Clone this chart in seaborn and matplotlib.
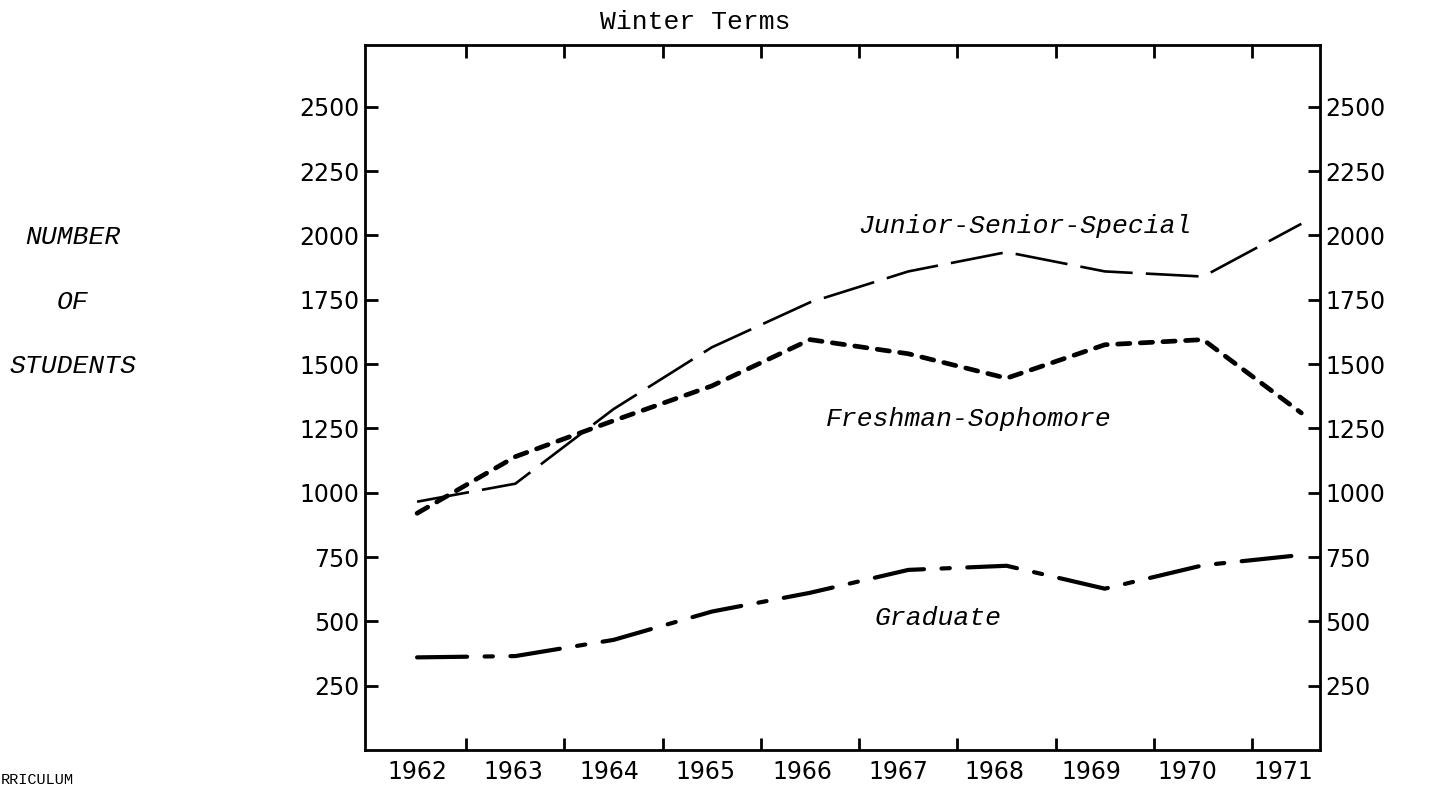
import numpy as np
import pandas as pd
import matplotlib
matplotlib.use("Agg")
import matplotlib.pyplot as plt
import seaborn as sns

# ---- data ----
years = ["1962", "1963", "1964", "1965", "1966", "1967", "1968", "1969", "1970", "1971"]
junior_senior_special = [965, 1035, 1325, 1565, 1740, 1860, 1935, 1860, 1840, 2045]
freshman_sophomore = [920, 1140, 1280, 1415, 1595, 1540, 1445, 1575, 1595, 1310]
graduate = [360, 365, 428, 538, 611, 700, 716, 627, 718, 758]
y_ticks = [250, 500, 750, 1000, 1250, 1500, 1750, 2000, 2250, 2500]

sns.set_theme(style="white")
plt.rcParams["font.family"] = ["DejaVu Sans"]

W, H = 1436, 788
fig = plt.figure(figsize=(W / 100, H / 100), dpi=100)
ax = fig.add_axes([365 / W, 38 / H, (1320 - 365) / W, (750 - 45) / H])

x = np.arange(len(years))

sns.lineplot(x=x, y=junior_senior_special, ax=ax, color="black", linewidth=1.9,
             linestyle=(0, (20, 5)), estimator=None)
sns.lineplot(x=x, y=freshman_sophomore, ax=ax, color="black", linewidth=3.4,
             linestyle=(0, (2.6, 2.2)), estimator=None, dash_capstyle="round")
sns.lineplot(x=x, y=graduate, ax=ax, color="black", linewidth=3.0,
             linestyle=(0, (12, 4.2, 2.0, 4.2)), estimator=None, dash_capstyle="round")

ax.set_xlim(-0.53, 9.19)
ax.set_ylim(0, 2740)

# x: ticks at year boundaries, labels centred in each year
ax.set_xticks(np.arange(len(years) - 1) + 0.5)
ax.set_xticklabels([])
ax.set_xticks(np.arange(len(years)) * 0.98, minor=True)
ax.set_xticklabels(years, minor=True, fontsize=17)
ax.tick_params(axis="x", which="major", direction="in", length=9, width=2,
               top=True, bottom=True, color="black")
ax.tick_params(axis="x", which="minor", length=0, pad=7, colors="black")

ax.set_yticks(y_ticks)
ax.set_yticklabels([str(v) for v in y_ticks], fontsize=17)
ax.tick_params(axis="y", direction="in", length=9, width=2, left=True, right=True,
               labelleft=True, labelright=True, pad=4, color="black", labelcolor="black")

for s in ax.spines.values():
    s.set_visible(True)
    s.set_color("black")
    s.set_linewidth(2)
ax.grid(False)
ax.set_xlabel("")
ax.set_ylabel("")

mono = ["Liberation Mono", "DejaVu Sans Mono"]
def ftext(px, py, s, style="italic", size=19, **kw):
    fig.text(px / W, 1 - py / H, s, family=mono, style=style, fontsize=size,
             ha="center", va="center", color="black", **kw)

ftext(695, 22, "Winter Terms", style="normal")
ftext(73, 237, "NUMBER")
ftext(73, 302, "OF")
ftext(73, 366, "STUDENTS")
ftext(1025, 226, "Junior-Senior-Special")
ftext(969, 419, "Freshman-Sophomore")
ftext(938, 618, "Graduate")
fig.text(1 / W, 1 / H, "RRICULUM", family=mono, fontsize=11, ha="left",
         va="bottom", color="black")

fig.savefig("out.png", dpi=100, facecolor="white")
